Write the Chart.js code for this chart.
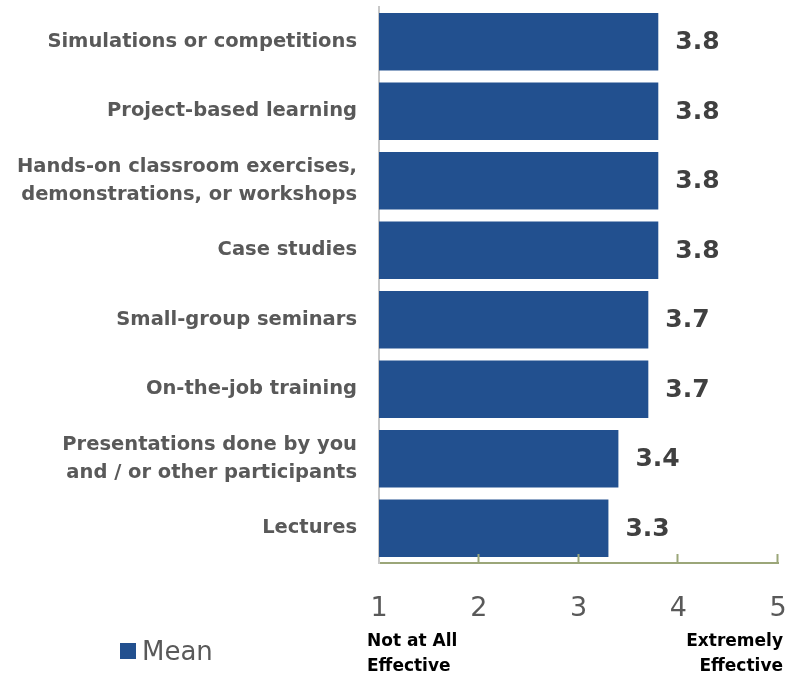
<!DOCTYPE html>
<html><head><meta charset="utf-8">
<script src="https://cdn.jsdelivr.net/npm/chart.js@4"></script>
<style>html,body{margin:0;padding:0;background:#fff}canvas{display:block}</style>
</head><body>
<canvas id="c" width="797" height="675"></canvas>
<script>
const categories = [
  "Simulations or competitions",
  "Project-based learning",
  ["Hands-on classroom exercises,", "demonstrations, or workshops"],
  "Case studies",
  "Small-group seminars",
  "On-the-job training",
  ["Presentations done by you", "and / or other participants"],
  "Lectures"
];
const meanValues = [3.8, 3.8, 3.8, 3.8, 3.7, 3.7, 3.4, 3.3];
const seriesName = "Mean";
const scaleMin = 1;
const scaleMax = 5;
const lowEndLabel = ["Not at All", "Effective"];
const highEndLabel = ["Extremely", "Effective"];

const BAR = '#22508F';
const GREY = '#595959';

const extras = {
  id: 'extras',
  afterDatasetsDraw(chart) {
    const ctx = chart.ctx;
    const meta = chart.getDatasetMeta(0);
    ctx.save();
    ctx.font = 'bold 25px "DejaVu Sans"';
    ctx.fillStyle = '#404040';
    ctx.textAlign = 'left';
    ctx.textBaseline = 'middle';
    meta.data.forEach((el, i) => {
      ctx.fillText(chart.data.datasets[0].data[i].toFixed(1), el.x + 17, el.y + 1);
    });
    ctx.restore();
  },
  afterDraw(chart) {
    const ctx = chart.ctx;
    const xs = chart.scales.x;
    const area = chart.chartArea;
    ctx.save();
    ctx.strokeStyle = '#9BA679';
    ctx.lineWidth = 2;
    xs.ticks.forEach(t => {
      if (t.value === scaleMin) return;
      const px = Math.round(xs.getPixelForValue(t.value)) - 0.5;
      ctx.beginPath();
      ctx.moveTo(px, area.bottom);
      ctx.lineTo(px, area.bottom - 9);
      ctx.stroke();
    });
    ctx.fillStyle = '#000';
    ctx.font = 'bold 17px "DejaVu Sans"';
    ctx.textBaseline = 'middle';
    const xl = xs.getPixelForValue(scaleMin) - 12;
    ctx.textAlign = 'left';
    ctx.fillText(lowEndLabel[0], xl, 642);
    ctx.fillText(lowEndLabel[1], xl, 667);
    const xr = xs.getPixelForValue(scaleMax) + 5;
    ctx.textAlign = 'right';
    ctx.fillText(highEndLabel[0], xr, 642);
    ctx.fillText(highEndLabel[1], xr, 667);
    ctx.fillStyle = chart.data.datasets[0].backgroundColor;
    ctx.fillRect(120, 643, 16, 16);
    ctx.fillStyle = GREY;
    ctx.font = '26px "DejaVu Sans"';
    ctx.textAlign = 'left';
    ctx.fillText(chart.data.datasets[0].label, 142, 653);
    ctx.restore();
  }
};

new Chart(document.getElementById('c'), {
  type: 'bar',
  data: {
    labels: categories,
    datasets: [{
      label: seriesName,
      data: meanValues,
      backgroundColor: BAR,
      borderWidth: 0,
      barPercentage: 0.83,
      categoryPercentage: 1.0
    }]
  },
  options: {
    indexAxis: 'y',
    responsive: false,
    animation: false,
    layout: { autoPadding: false, padding: { top: 7, right: 19, left: 0, bottom: 0 } },
    plugins: { legend: { display: false }, tooltip: { enabled: false } },
    scales: {
      x: {
        min: scaleMin, max: scaleMax,
        ticks: { stepSize: 1, color: GREY, font: { family: 'DejaVu Sans', size: 27 }, padding: 22, maxRotation: 0 },
        grid: { display: false },
        border: { display: true, color: '#9BA679', width: 2 },
        afterFit(s) { s.height = 112; s.paddingLeft = 0; s.paddingRight = 0; }
      },
      y: {
        ticks: { color: GREY, font: { family: 'DejaVu Sans', size: 19.5, weight: 'bold', lineHeight: 1.45 }, padding: 14 },
        grid: { display: false },
        border: { display: true, color: '#C8C8C8', width: 2 },
        afterFit(s) { s.width = 379; s.paddingTop = 0; s.paddingBottom = 0; }
      }
    }
  },
  plugins: [extras]
});
</script>
</body></html>
